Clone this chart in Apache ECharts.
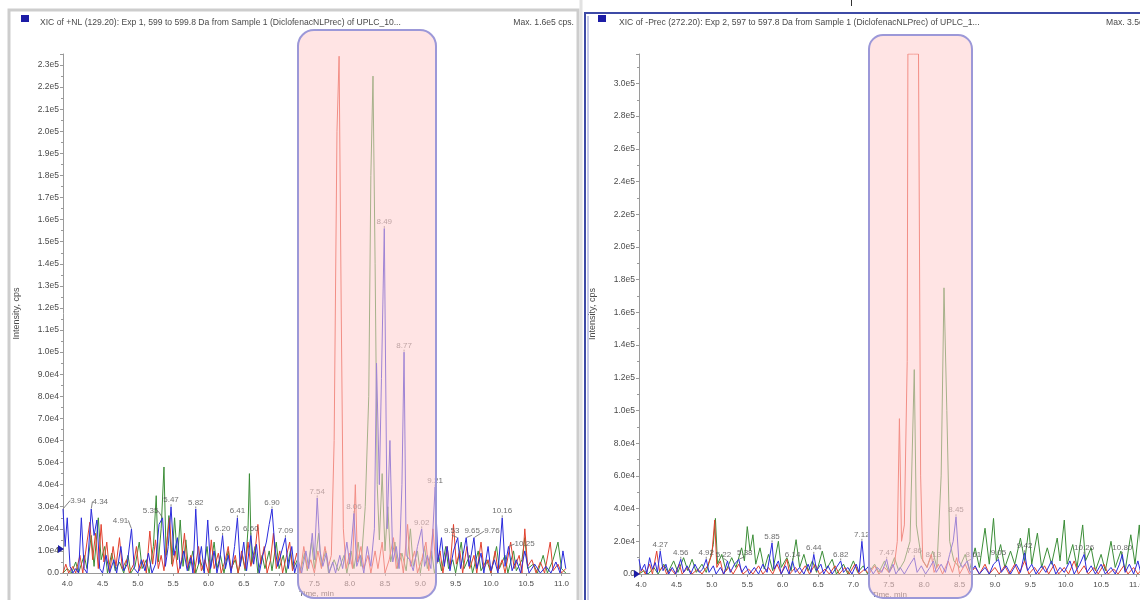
<!DOCTYPE html>
<html>
<head>
<meta charset="utf-8">
<script src="https://cdn.jsdelivr.net/npm/echarts@6/dist/echarts.min.js"></script>
<style>
  html, body { margin: 0; padding: 0; background: #ffffff; }
  #chart { width: 1140px; height: 600px; }
</style>
</head>
<body>
<div id="chart"></div>
<script>
// Extracted ion chromatograms, points are [time (min), intensity (cps)].

// Pane 1: +NL (129.20) scan, three overlaid XIC traces
const nlBlue = [[3.94,29000],[3.97,12000],[4.00,25000],[4.04,3000],[4.08,0],[4.12,2000],[4.16,0],[4.20,25000],[4.24,2000],[4.28,0],[4.34,29000],[4.38,17000],[4.42,24000],[4.46,2000],[4.50,0],[4.55,8000],[4.60,0],[4.66,6000],[4.70,0],[4.76,12000],[4.80,1000],[4.85,4000],[4.91,20000],[4.95,2000],[5.00,0],[5.05,6000],[5.10,1000],[5.15,9000],[5.20,0],[5.25,4000],[5.30,22000],[5.35,25000],[5.39,3000],[5.43,12000],[5.47,30000],[5.51,8000],[5.56,16000],[5.60,2000],[5.65,10000],[5.70,1000],[5.75,7000],[5.78,0],[5.82,29000],[5.86,4000],[5.90,12000],[5.94,0],[5.99,24000],[6.03,2000],[6.08,10000],[6.12,0],[6.16,6000],[6.20,17000],[6.24,2000],[6.28,8000],[6.32,0],[6.37,12000],[6.41,25000],[6.45,3000],[6.50,14000],[6.54,1000],[6.60,17000],[6.64,4000],[6.68,13000],[6.72,0],[6.77,8000],[6.82,14000],[6.86,22000],[6.90,29000],[6.94,12000],[6.98,3000],[7.03,9000],[7.09,16000],[7.13,2000],[7.18,12000],[7.22,0],[7.27,6000],[7.32,0],[7.38,10000],[7.42,2000],[7.47,18000],[7.50,6000],[7.54,34000],[7.58,10000],[7.62,3000],[7.67,9000],[7.71,0],[7.76,5000],[7.80,0],[7.86,8000],[7.90,2000],[7.96,14000],[8.00,4000],[8.06,27000],[8.10,3000],[8.15,8000],[8.20,0],[8.25,12000],[8.30,3000],[8.35,20000],[8.38,95000],[8.42,40000],[8.45,88000],[8.49,156000],[8.53,20000],[8.57,60000],[8.61,5000],[8.66,12000],[8.70,2000],[8.74,40000],[8.77,100000],[8.80,8000],[8.85,6000],[8.90,1000],[8.96,12000],[9.02,20000],[9.06,3000],[9.10,8000],[9.15,2000],[9.21,39000],[9.25,5000],[9.30,16000],[9.34,3000],[9.38,12000],[9.42,1000],[9.47,10000],[9.53,16000],[9.57,2000],[9.61,9000],[9.65,16000],[9.69,3000],[9.72,8000],[9.76,16000],[9.80,2000],[9.86,9000],[9.90,0],[9.96,12000],[10.00,1000],[10.05,6000],[10.10,0],[10.16,25000],[10.20,3000],[10.25,12000],[10.30,1000],[10.36,6000],[10.42,0],[10.48,10000],[10.54,0],[10.62,4000],[10.70,0],[10.78,3000],[10.85,0],[10.92,5000],[10.98,0],[11.02,10000],[11.06,2000]];

const nlRed = [[3.94,0],[3.98,4000],[4.02,0],[4.08,3000],[4.12,0],[4.18,8000],[4.22,0],[4.28,14000],[4.32,23000],[4.36,6000],[4.40,18000],[4.44,2000],[4.48,22000],[4.52,5000],[4.56,14000],[4.60,0],[4.65,12000],[4.69,3000],[4.74,16000],[4.78,2000],[4.84,6000],[4.88,0],[4.94,4000],[4.98,12000],[5.02,1000],[5.08,6000],[5.12,0],[5.17,19000],[5.21,4000],[5.25,15000],[5.29,2000],[5.33,8000],[5.37,1000],[5.41,14000],[5.45,25000],[5.49,3000],[5.53,10000],[5.57,0],[5.62,6000],[5.66,18000],[5.70,2000],[5.75,8000],[5.80,0],[5.86,12000],[5.90,1000],[5.95,6000],[6.00,0],[6.04,15000],[6.08,2000],[6.14,9000],[6.18,0],[6.24,6000],[6.28,12000],[6.32,1000],[6.38,8000],[6.42,0],[6.47,10000],[6.52,2000],[6.56,14000],[6.60,3000],[6.66,10000],[6.70,22000],[6.74,4000],[6.79,12000],[6.83,0],[6.88,6000],[6.92,18000],[6.96,2000],[7.01,10000],[7.05,0],[7.10,7000],[7.15,14000],[7.19,1000],[7.25,9000],[7.30,0],[7.35,12000],[7.40,2000],[7.45,6000],[7.50,0],[7.55,10000],[7.60,2000],[7.65,12000],[7.70,3000],[7.74,8000],[7.78,60000],[7.82,200000],[7.85,234000],[7.88,120000],[7.91,20000],[7.95,2000],[8.00,9000],[8.04,2000],[8.08,40000],[8.11,5000],[8.16,12000],[8.20,2000],[8.26,8000],[8.30,0],[8.36,10000],[8.40,2000],[8.46,14000],[8.50,0],[8.56,6000],[8.62,16000],[8.66,2000],[8.72,9000],[8.76,0],[8.82,22000],[8.86,3000],[8.92,10000],[8.96,0],[9.02,6000],[9.08,14000],[9.12,1000],[9.18,20000],[9.22,3000],[9.28,10000],[9.32,0],[9.38,12000],[9.42,2000],[9.47,22000],[9.51,4000],[9.56,10000],[9.60,0],[9.66,12000],[9.70,2000],[9.76,8000],[9.80,0],[9.86,14000],[9.90,2000],[9.96,6000],[10.00,0],[10.06,10000],[10.10,1000],[10.16,6000],[10.20,0],[10.28,14000],[10.33,2000],[10.40,8000],[10.44,0],[10.48,20000],[10.52,3000],[10.58,6000],[10.64,0],[10.70,5000],[10.76,0],[10.84,14000],[10.88,1000],[10.95,4000],[11.00,0],[11.06,2000]];

const nlGreen = [[3.94,0],[4.00,2000],[4.06,0],[4.12,5000],[4.16,0],[4.24,8000],[4.28,2000],[4.34,17000],[4.38,3000],[4.44,25000],[4.48,6000],[4.53,12000],[4.57,0],[4.63,9000],[4.68,1000],[4.74,5000],[4.80,0],[4.86,8000],[4.90,0],[4.96,3000],[5.02,14000],[5.06,2000],[5.12,6000],[5.16,0],[5.22,12000],[5.26,35000],[5.29,5000],[5.33,20000],[5.37,48000],[5.40,8000],[5.44,26000],[5.48,4000],[5.52,25000],[5.56,6000],[5.60,24000],[5.64,3000],[5.68,15000],[5.72,1000],[5.78,10000],[5.82,0],[5.88,6000],[5.93,1000],[5.98,12000],[6.02,0],[6.08,14000],[6.12,2000],[6.17,8000],[6.22,0],[6.28,10000],[6.32,2000],[6.38,6000],[6.42,0],[6.48,8000],[6.52,1000],[6.56,20000],[6.58,45000],[6.61,4000],[6.66,12000],[6.70,0],[6.76,8000],[6.80,2000],[6.86,10000],[6.90,1000],[6.96,14000],[7.00,2000],[7.06,8000],[7.10,0],[7.16,10000],[7.20,2000],[7.26,6000],[7.30,0],[7.36,9000],[7.40,1000],[7.46,14000],[7.50,2000],[7.56,18000],[7.60,3000],[7.66,10000],[7.70,0],[7.78,6000],[7.84,1000],[7.92,8000],[7.96,0],[8.02,10000],[8.06,2000],[8.12,14000],[8.16,3000],[8.22,30000],[8.27,80000],[8.30,180000],[8.33,225000],[8.36,140000],[8.39,40000],[8.42,15000],[8.46,45000],[8.50,10000],[8.54,30000],[8.58,5000],[8.64,14000],[8.68,2000],[8.74,9000],[8.80,1000],[8.86,20000],[8.90,3000],[8.96,10000],[9.00,0],[9.06,12000],[9.10,2000],[9.16,10000],[9.20,0],[9.26,8000],[9.30,1000],[9.36,12000],[9.40,2000],[9.46,6000],[9.50,0],[9.58,14000],[9.62,2000],[9.70,8000],[9.74,0],[9.82,10000],[9.86,1000],[9.94,6000],[10.00,0],[10.08,12000],[10.12,2000],[10.20,8000],[10.24,0],[10.32,10000],[10.36,1000],[10.44,6000],[10.48,16000],[10.52,2000],[10.60,4000],[10.66,0],[10.74,8000],[10.80,0],[10.88,6000],[10.95,14000],[11.00,2000],[11.06,0]];

// Pane 2: -Prec (272.20) scan, three overlaid XIC traces
const precBlue = [[3.97,9000],[4.00,2000],[4.05,6000],[4.08,0],[4.12,10000],[4.16,3000],[4.20,7000],[4.23,1000],[4.27,14000],[4.31,2000],[4.35,6000],[4.39,0],[4.44,4000],[4.49,0],[4.56,9000],[4.60,1000],[4.65,5000],[4.70,0],[4.76,6000],[4.82,1000],[4.87,3000],[4.92,9000],[4.96,1000],[5.02,5000],[5.06,0],[5.12,4000],[5.17,0],[5.22,8000],[5.26,1000],[5.32,6000],[5.38,9000],[5.42,1000],[5.48,5000],[5.53,0],[5.60,4000],[5.66,0],[5.72,6000],[5.78,1000],[5.85,19000],[5.88,3000],[5.94,8000],[5.98,0],[6.04,5000],[6.09,0],[6.14,8000],[6.18,1000],[6.24,4000],[6.30,0],[6.36,6000],[6.40,1000],[6.44,12000],[6.48,2000],[6.54,6000],[6.58,0],[6.64,5000],[6.70,0],[6.76,4000],[6.82,8000],[6.86,1000],[6.92,4000],[6.98,0],[7.04,6000],[7.08,1000],[7.12,20000],[7.16,2000],[7.22,5000],[7.28,0],[7.34,4000],[7.40,1000],[7.47,9000],[7.51,1000],[7.56,6000],[7.60,0],[7.66,4000],[7.72,0],[7.80,6000],[7.86,10000],[7.90,1000],[7.96,5000],[8.02,0],[8.08,4000],[8.13,8000],[8.17,1000],[8.24,6000],[8.30,1000],[8.36,12000],[8.41,20000],[8.45,35000],[8.49,8000],[8.54,4000],[8.61,8000],[8.65,1000],[8.72,5000],[8.78,0],[8.86,4000],[8.92,0],[8.98,6000],[9.05,9000],[9.09,1000],[9.16,5000],[9.22,0],[9.30,6000],[9.36,1000],[9.42,13000],[9.46,2000],[9.52,6000],[9.58,0],[9.66,5000],[9.72,1000],[9.80,8000],[9.86,0],[9.92,4000],[9.98,1000],[10.06,8000],[10.12,0],[10.20,6000],[10.26,12000],[10.30,1000],[10.36,5000],[10.42,0],[10.50,6000],[10.56,0],[10.64,4000],[10.70,0],[10.76,6000],[10.80,12000],[10.84,1000],[10.90,6000],[10.96,0],[11.02,8000],[11.06,1000]];

const precRed = [[3.97,0],[4.02,3000],[4.06,0],[4.12,6000],[4.16,0],[4.22,14000],[4.26,2000],[4.32,5000],[4.36,0],[4.42,3000],[4.48,0],[4.54,6000],[4.58,0],[4.66,4000],[4.72,0],[4.80,3000],[4.86,0],[4.94,5000],[5.00,12000],[5.04,33000],[5.07,4000],[5.12,8000],[5.16,0],[5.24,4000],[5.30,0],[5.38,6000],[5.44,0],[5.52,3000],[5.58,0],[5.66,5000],[5.72,0],[5.80,4000],[5.86,0],[5.92,6000],[5.98,0],[6.06,9000],[6.10,0],[6.18,4000],[6.24,0],[6.32,5000],[6.38,0],[6.46,6000],[6.52,0],[6.60,3000],[6.66,0],[6.74,5000],[6.80,0],[6.88,4000],[6.94,0],[7.02,6000],[7.08,0],[7.16,3000],[7.22,0],[7.30,5000],[7.36,0],[7.44,4000],[7.50,1000],[7.58,6000],[7.62,20000],[7.65,95000],[7.68,20000],[7.72,30000],[7.76,130000],[7.77,318000],[7.85,318000],[7.92,318000],[7.95,60000],[7.98,8000],[8.04,4000],[8.10,12000],[8.14,1000],[8.20,6000],[8.26,0],[8.34,8000],[8.40,1000],[8.46,10000],[8.50,0],[8.58,6000],[8.64,0],[8.72,4000],[8.78,0],[8.86,6000],[8.92,0],[9.00,4000],[9.06,0],[9.14,5000],[9.20,0],[9.28,6000],[9.34,0],[9.42,8000],[9.48,0],[9.56,4000],[9.62,0],[9.70,5000],[9.76,0],[9.84,6000],[9.90,0],[9.98,4000],[10.04,0],[10.12,8000],[10.18,0],[10.26,5000],[10.32,0],[10.40,4000],[10.46,0],[10.54,6000],[10.60,0],[10.68,3000],[10.74,0],[10.82,5000],[10.88,0],[10.96,4000],[11.02,0],[11.06,2000]];

const precGreen = [[3.97,0],[4.04,2000],[4.10,0],[4.18,4000],[4.24,0],[4.32,6000],[4.38,1000],[4.46,8000],[4.52,1000],[4.60,10000],[4.66,2000],[4.72,9000],[4.78,1000],[4.86,6000],[4.92,1000],[4.98,10000],[5.02,18000],[5.05,34000],[5.08,6000],[5.14,12000],[5.20,2000],[5.28,10000],[5.34,4000],[5.42,16000],[5.46,8000],[5.50,29000],[5.54,14000],[5.58,24000],[5.62,6000],[5.68,16000],[5.74,3000],[5.80,12000],[5.86,2000],[5.94,20000],[5.98,4000],[6.06,10000],[6.12,2000],[6.19,21000],[6.24,4000],[6.30,12000],[6.36,2000],[6.42,8000],[6.48,1000],[6.56,14000],[6.62,3000],[6.70,9000],[6.76,0],[6.86,6000],[6.92,0],[7.00,8000],[7.06,1000],[7.14,5000],[7.20,0],[7.30,6000],[7.36,1000],[7.44,8000],[7.50,1000],[7.58,10000],[7.64,2000],[7.72,8000],[7.80,20000],[7.86,125000],[7.89,30000],[7.96,10000],[8.04,4000],[8.12,14000],[8.18,4000],[8.24,60000],[8.28,175000],[8.32,100000],[8.36,20000],[8.42,8000],[8.50,4000],[8.58,12000],[8.64,2000],[8.72,16000],[8.78,4000],[8.86,28000],[8.92,6000],[8.98,34000],[9.02,8000],[9.08,18000],[9.14,4000],[9.22,14000],[9.28,6000],[9.36,22000],[9.42,8000],[9.48,28000],[9.52,6000],[9.60,25000],[9.66,4000],[9.74,16000],[9.80,6000],[9.88,22000],[9.92,8000],[9.98,33000],[10.02,6000],[10.10,18000],[10.16,4000],[10.24,30000],[10.28,8000],[10.36,16000],[10.42,2000],[10.50,12000],[10.56,2000],[10.64,20000],[10.70,4000],[10.78,14000],[10.84,2000],[10.92,24000],[10.98,6000],[11.04,30000],[11.08,4000]];

// Retention times annotated on the blue trace of each pane
const nlPeakTimes = [3.94,4.34,4.91,5.35,5.47,5.82,6.20,6.41,6.60,6.90,7.09,7.54,8.06,8.49,8.77,9.02,9.21,9.53,9.65,9.76,10.16,10.25];
const precPeakTimes = [4.27,4.56,4.92,5.22,5.38,5.85,6.14,6.44,6.82,7.12,7.47,7.86,8.13,8.45,8.61,9.05,9.42,10.26,10.80];

// Axis tick positions
const timeTicks = [4.0,4.5,5.0,5.5,6.0,6.5,7.0,7.5,8.0,8.5,9.0,9.5,10.0,10.5,11.0];

const nlTitle = 'XIC of +NL (129.20): Exp 1, 599 to 599.8 Da from Sample 1 (DiclofenacNLPrec) of UPLC_10...';
const nlMax = 'Max. 1.6e5 cps.';
const precTitle = 'XIC of -Prec (272.20): Exp 2, 597 to 597.8 Da from Sample 1 (DiclofenacNLPrec) of UPLC_1...';
const precMax = 'Max. 3.5e4 cps.';

// ---------- styling ----------
const BLUE = '#2b2bdc', RED = '#e2412e', GREEN = '#3b8d37';
const TEXT = '#4a4a4a', AXIS = '#9a9a9a';
const FONT = '"Liberation Sans", Arial, sans-serif';

// label nudges (pixels) where neighbouring annotations would collide
const nlLabelShift = { '3.94': [15, -2], '4.34': [9, -1], '4.91': [-11, -2], '5.35': [-12, 0],
                       '9.53': [-6, 0], '9.65': [6, 0], '9.76': [18, 0], '10.25': [16, 4] };
const precLabelShift = { '5.22': [-4, 0], '5.38': [6, 0], '8.61': [6, 0] };

function sci(v) {
  if (v === 0) return '0.0';
  return v.toExponential(1).replace('e+', 'e');
}

function xAxisFor(grid, min, max) {
  return {
    type: 'value', gridIndex: grid, min: min, max: max,
    name: 'Time, min', nameLocation: 'middle', nameGap: 17, nameMoveOverlap: false,
    nameTextStyle: { color: TEXT, fontSize: 8, fontFamily: FONT },
    axisLine: { onZero: false, lineStyle: { color: AXIS, width: 1 } },
    axisTick: { show: true, length: 3, lineStyle: { color: AXIS }, customValues: timeTicks },
    axisLabel: { color: TEXT, fontSize: 8, fontFamily: FONT, margin: 7,
      customValues: timeTicks, formatter: v => v.toFixed(1) },
    splitLine: { show: false }
  };
}

function yAxisFor(grid, max, step) {
  return {
    type: 'value', gridIndex: grid, min: 0, max: max, interval: step,
    name: 'Intensity, cps', nameLocation: 'middle', nameGap: 42, nameMoveOverlap: false,
    nameTextStyle: { color: TEXT, fontSize: 9, fontFamily: FONT },
    axisLine: { show: true, lineStyle: { color: AXIS, width: 1 } },
    axisTick: { show: true, length: 3, lineStyle: { color: AXIS } },
    minorTick: { show: true, splitNumber: 2, length: 2, lineStyle: { color: AXIS } },
    axisLabel: { color: TEXT, fontSize: 8.5, fontFamily: FONT, margin: 4,
      showMaxLabel: false, formatter: sci },
    splitLine: { show: false }
  };
}

function trace(name, data, color, idx) {
  return {
    type: 'line', name: name, xAxisIndex: idx, yAxisIndex: idx,
    data: data, showSymbol: false, clip: true, animation: false,
    lineStyle: { color: color, width: 1 }, z: 3
  };
}

function peakLabels(times, source, idx, shifts) {
  const pts = times.map(t => source.find(p => Math.abs(p[0] - t) < 1e-9));
  return {
    type: 'scatter', xAxisIndex: idx, yAxisIndex: idx, data: pts,
    symbolSize: 1, itemStyle: { color: 'rgba(0,0,0,0)' }, animation: false, z: 4,
    label: { show: true, position: 'top', distance: 2, color: TEXT, fontSize: 8,
      fontFamily: FONT, formatter: p => p.value[0].toFixed(2) },
    labelLine: { show: true, lineStyle: { color: '#666', width: 0.8 } },
    labelLayout: function (params) {
      const s = shifts[times[params.dataIndex].toFixed(2)];
      return s ? { dx: s[0], dy: s[1] } : {};
    }
  };
}

const headerFont = '8.6px ' + FONT;

const option = {
  backgroundColor: '#ffffff',
  animation: false,
  grid: [
    { left: 63, right: 570, top: 54, bottom: 27, outerBoundsMode: 'none' },
    { left: 639, right: 0, top: 54, bottom: 26, outerBoundsMode: 'none' }
  ],
  xAxis: [ xAxisFor(0, 3.94, 11.12), xAxisFor(1, 3.97, 11.05) ],
  yAxis: [ yAxisFor(0, 235000, 10000), yAxisFor(1, 318000, 20000) ],
  series: [
    trace('nl-green', nlGreen, GREEN, 0),
    trace('nl-red', nlRed, RED, 0),
    trace('nl-blue', nlBlue, BLUE, 0),
    peakLabels(nlPeakTimes, nlBlue, 0, nlLabelShift),
    trace('prec-green', precGreen, GREEN, 1),
    trace('prec-red', precRed, RED, 1),
    trace('prec-blue', precBlue, BLUE, 1),
    peakLabels(precPeakTimes, precBlue, 1, precLabelShift)
  ],
  graphic: [
    // pane frames
    { type: 'rect', shape: { x: 9, y: 10, width: 569, height: 600 },
      style: { fill: 'none', stroke: '#cdcdcd', lineWidth: 3 }, z: 1 },
    { type: 'rect', shape: { x: 579.5, y: 0, width: 3, height: 600 },
      style: { fill: '#e2e2e2' }, z: 1 },
    { type: 'rect', shape: { x: 585, y: 13, width: 570, height: 600 },
      style: { fill: 'none', stroke: '#3d4aa6', lineWidth: 2 }, z: 1 },
    { type: 'line', shape: { x1: 588, y1: 16, x2: 588, y2: 600 },
      style: { stroke: '#8e95d0', lineWidth: 1 }, z: 1 },
    { type: 'line', shape: { x1: 851.5, y1: 0, x2: 851.5, y2: 6 },
      style: { stroke: '#333', lineWidth: 1 }, z: 1 },
    // header rows
    { type: 'rect', shape: { x: 21, y: 15, width: 8, height: 7 }, style: { fill: '#1c1ca6' }, z: 1 },
    { type: 'text', style: { text: nlTitle, x: 40, y: 23, font: headerFont, fill: TEXT, verticalAlign: 'middle' }, z: 1 },
    { type: 'text', style: { text: nlMax, x: 574, y: 23, font: headerFont, fill: TEXT, align: 'right', verticalAlign: 'middle' }, z: 1 },
    { type: 'rect', shape: { x: 598, y: 15, width: 8, height: 7 }, style: { fill: '#1c1ca6' }, z: 1 },
    { type: 'text', style: { text: precTitle, x: 619, y: 23, font: headerFont, fill: TEXT, verticalAlign: 'middle' }, z: 1 },
    { type: 'text', style: { text: precMax, x: 1106, y: 23, font: headerFont, fill: TEXT, verticalAlign: 'middle' }, z: 1 },
    // baseline markers on the intensity axes
    { type: 'polygon', shape: { points: [[58, 545], [64, 549], [58, 553]] }, style: { fill: '#1c1ca6' }, z: 5 },
    { type: 'polygon', shape: { points: [[634, 570], [640, 574], [634, 578]] }, style: { fill: '#1c1ca6' }, z: 5 },
    // highlighted retention windows, drawn over the traces
    { type: 'rect', shape: { x: 298, y: 30, width: 138, height: 568, r: 16 },
      style: { fill: 'rgba(255,205,205,0.55)', stroke: '#9c98d8', lineWidth: 2 }, z: 50 },
    { type: 'rect', shape: { x: 869, y: 35, width: 103, height: 563, r: 14 },
      style: { fill: 'rgba(255,205,205,0.55)', stroke: '#9c98d8', lineWidth: 2 }, z: 50 }
  ]
};

const chart = echarts.init(document.getElementById('chart'), null, { renderer: 'canvas' });
chart.setOption(option);
</script>
</body>
</html>
